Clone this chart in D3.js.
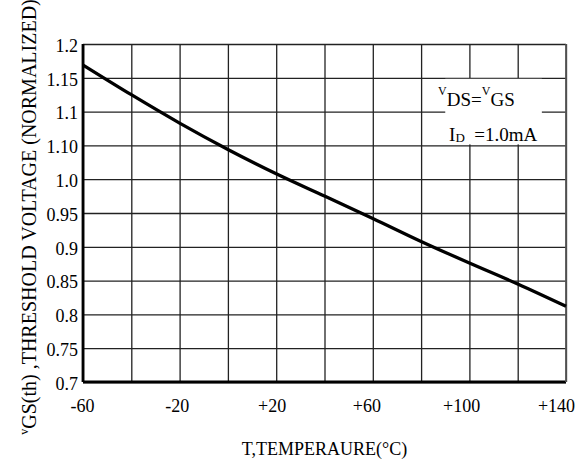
<!DOCTYPE html>
<html>
<head>
<meta charset="utf-8">
<script src="https://cdn.jsdelivr.net/npm/d3@7"></script>
<style>
  body { margin: 0; background: #fff; }
  text { font-family: "Liberation Serif", "Times New Roman", serif; fill: #000; }
</style>
</head>
<body>
<div id="chart"></div>
<script>
// temperature (°C) and normalized threshold voltage
var temps = [-60, -40, -20, 0, 20, 40, 60, 80, 100, 120, 140];
var vth = [1.169, 1.125, 1.083, 1.044, 1.008, 0.975, 0.942, 0.908, 0.876, 0.845, 0.812];

// grid / tick definitions
var xGridTicks = [-60, -40, -20, 0, 20, 40, 60, 80, 100, 120, 140];
var xLabelTicks = [-60, -20, 20, 60, 100, 140];
var xTickLabels = ["-60", "-20", "+20", "+60", "+100", "+140"];
var yTicks = [1.2, 1.15, 1.1, 1.05, 1.0, 0.95, 0.9, 0.85, 0.8, 0.75, 0.7];
var yTickLabels = ["1.2", "1.15", "1.1", "1.10", "1.0", "0.95", "0.9", "0.85", "0.8", "0.75", "0.7"];

var svgWidth = 584;
var svgHeight = 461;
var margin = { top: 44, right: 18, bottom: 79, left: 83 };
var width = svgWidth - margin.left - margin.right;
var height = svgHeight - margin.top - margin.bottom;

var svg = d3.select("#chart")
  .append("svg")
  .attr("width", svgWidth)
  .attr("height", svgHeight);

var chartGroup = svg.append("g")
  .attr("transform", `translate(${margin.left}, ${margin.top})`);

var x = d3.scaleLinear().domain([-60, 140]).range([0, width]);
var y = d3.scaleLinear().domain([0.7, 1.2]).range([height, 0]);

// labels in the original sit slightly left of their grid lines
var xLabel = d3.scaleLinear().domain([-60, 140]).range([x(-60) - 1, x(140) - 10]);

// vertical grid
chartGroup.append("g")
  .attr("class", "x-grid")
  .attr("transform", `translate(0, ${height})`)
  .call(d3.axisBottom(x).tickValues(xGridTicks).tickSize(-height).tickFormat(""))
  .call(g => g.select(".domain").remove())
  .call(g => g.selectAll("line").attr("stroke", "#222").attr("stroke-width", 1.3));

// horizontal grid + y labels
chartGroup.append("g")
  .attr("class", "y-axis")
  .call(d3.axisLeft(y).tickValues(yTicks).tickSize(-width).tickPadding(5)
    .tickFormat((d, i) => yTickLabels[i]))
  .call(g => g.select(".domain").remove())
  .call(g => g.selectAll("line").attr("stroke", "#222").attr("stroke-width", 1.3))
  .call(g => g.selectAll("text").attr("font-size", "18px").attr("font-family", null)
    .attr("fill", "#000").attr("dy", "0.4em"));

// x labels
chartGroup.append("g")
  .attr("class", "x-axis")
  .attr("transform", `translate(0, ${height})`)
  .call(d3.axisBottom(xLabel).tickValues(xLabelTicks).tickSize(0).tickPadding(17)
    .tickFormat((d, i) => xTickLabels[i]))
  .call(g => g.select(".domain").remove())
  .call(g => g.selectAll("text").attr("font-size", "18px").attr("font-family", null).attr("fill", "#000"));

// heavy left and bottom frame
chartGroup.append("line")
  .attr("x1", 0).attr("x2", 0).attr("y1", 0).attr("y2", height)
  .attr("stroke", "#000").attr("stroke-width", 2.8);
chartGroup.append("line")
  .attr("x1", 0).attr("x2", width).attr("y1", height).attr("y2", height)
  .attr("stroke", "#000").attr("stroke-width", 2.8);
chartGroup.append("line")
  .attr("x1", width).attr("x2", width).attr("y1", 0).attr("y2", height)
  .attr("stroke", "#555").attr("stroke-width", 1.8);

// condition box
chartGroup.append("rect")
  .attr("x", x(90))
  .attr("y", y(1.15) + 1)
  .attr("width", x(130) - x(90))
  .attr("height", y(1.05) - y(1.15) - 2)
  .attr("fill", "#fff");

var cond1 = chartGroup.append("text")
  .attr("x", x(80) + 17)
  .attr("y", y(1.1) - 6)
  .attr("font-size", "19px");
cond1.append("tspan").attr("font-size", "12px").attr("dy", -11).text("V");
cond1.append("tspan").attr("dy", 11).text("DS");
cond1.append("tspan").text("=");
cond1.append("tspan").attr("font-size", "12px").attr("dy", -11).text("V");
cond1.append("tspan").attr("dy", 11).text("GS");

var cond2 = chartGroup.append("text")
  .attr("x", x(80) + 28)
  .attr("y", y(1.05) - 4)
  .attr("font-size", "19px");
cond2.append("tspan").text("I");
cond2.append("tspan").attr("font-size", "13px").attr("dy", 1).text("D");
cond2.append("tspan").attr("dy", -1).text("\u00a0 =1.0mA");

// curve
var line = d3.line()
  .x((d, i) => x(temps[i]))
  .y(d => y(d))
  .curve(d3.curveMonotoneX);

chartGroup.append("path")
  .datum(vth)
  .attr("d", line)
  .attr("fill", "none")
  .attr("stroke", "#000")
  .attr("stroke-width", 3.3);

// axis titles
svg.append("text")
  .attr("x", margin.left + width / 2)
  .attr("y", 455)
  .attr("text-anchor", "middle")
  .attr("font-size", "18px")
  .text("T,TEMPERAURE(\u00b0C)");

var yTitle = svg.append("text")
  .attr("transform", "translate(36, 217) rotate(-90)")
  .attr("text-anchor", "middle")
  .attr("font-size", "20px");
yTitle.append("tspan").attr("font-size", "12px").attr("dy", -8).text("v");
yTitle.append("tspan").attr("dy", 8).text("GS(th) ,THRESHOLD VOLTAGE (NORMALIZED)");
</script>
</body>
</html>
